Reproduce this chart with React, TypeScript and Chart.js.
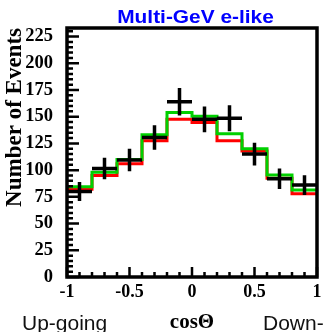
import React, { useEffect, useRef } from "react";
import { Chart, registerables } from "chart.js";

Chart.register(...registerables);

// cosΘ bin edges and centres
const binEdges = [-1, -0.8, -0.6, -0.4, -0.2, 0, 0.2, 0.4, 0.6, 0.8, 1];
const binCenters = [-0.9, -0.7, -0.5, -0.3, -0.1, 0.1, 0.3, 0.5, 0.7, 0.9];
// observed data (black crosses) and their errors
const dataValues = [80, 101.5, 109.5, 130.5, 164, 147.5, 148.5, 115, 92, 86];
const dataErrors = [9, 10, 10.5, 11.4, 12.8, 12.1, 12.2, 10.7, 9.6, 9.3];
// expectation histograms
const greenValues = [84.5, 98, 110, 133, 154, 150.5, 134, 120, 95.5, 81.5];
const redValues = [82, 95, 106, 127.5, 147.5, 144.5, 127.5, 118, 92.5, 78];
// axes
const xTickValues = [-1, -0.5, 0, 0.5, 1];
const xTickLabels = ["-1", "-0.5", "0", "0.5", "1"];
const yTickValues = [0, 25, 50, 75, 100, 125, 150, 175, 200, 225];
const yTickLabels = ["0", "25", "50", "75", "100", "125", "150", "175", "200", "225"];
const yMax = 233;
const titleText = "Multi-GeV e-like";

const histPoints = (vals: number[]) =>
  binEdges.map((x, i) => ({ x, y: vals[Math.min(i, vals.length - 1)] }));

const overlay = {
  id: "overlay",
  afterDatasetsDraw(chart: any) {
    const { ctx, chartArea: a } = chart;
    const xs = chart.scales.x;
    const ys = chart.scales.y;
    ctx.save();
    // data crosses
    ctx.strokeStyle = "#000";
    ctx.lineWidth = 3.5;
    ctx.lineCap = "butt";
    for (let i = 0; i < dataValues.length; i++) {
      const l = xs.getPixelForValue(binEdges[i]);
      const r = xs.getPixelForValue(binEdges[i + 1]);
      const cx = xs.getPixelForValue(binCenters[i]);
      const cy = ys.getPixelForValue(dataValues[i]);
      const t = ys.getPixelForValue(dataValues[i] + dataErrors[i]);
      const b = ys.getPixelForValue(dataValues[i] - dataErrors[i]);
      ctx.beginPath();
      ctx.moveTo(l, cy);
      ctx.lineTo(r, cy);
      ctx.moveTo(cx, t);
      ctx.lineTo(cx, b);
      ctx.stroke();
    }
    // inward ticks
    ctx.lineWidth = 2.5;
    ctx.beginPath();
    for (let k = 0; k * 5 <= yMax; k++) {
      const v = k * 5;
      const py = ys.getPixelForValue(v);
      const len = v % 25 === 0 ? 12 : 6;
      ctx.moveTo(a.left, py);
      ctx.lineTo(a.left + len, py);
    }
    for (let k = 0; k <= 20; k++) {
      const v = -1 + k * 0.1;
      const px = xs.getPixelForValue(v);
      const len = k % 5 === 0 ? 10 : 5;
      ctx.moveTo(px, a.bottom);
      ctx.lineTo(px, a.bottom - len);
    }
    ctx.stroke();
    // frame
    ctx.lineWidth = 3.5;
    ctx.strokeRect(a.left, a.top, a.right - a.left, a.bottom - a.top);
    // x tick labels, placed through the x scale
    ctx.fillStyle = "#000";
    ctx.font = 'bold 18px "Liberation Serif"';
    ctx.textAlign = "center";
    ctx.textBaseline = "alphabetic";
    xTickValues.forEach((v, i) => {
      ctx.fillText(xTickLabels[i], xs.getPixelForValue(v), a.bottom + 20);
    });
    // title (slightly widened, as in the original)
    ctx.save();
    ctx.fillStyle = "#0000ff";
    ctx.font = 'bold 18px "Liberation Sans"';
    ctx.textAlign = "center";
    ctx.textBaseline = "alphabetic";
    ctx.translate(195.5, 23);
    ctx.scale(1.16, 1);
    ctx.fillText(titleText, 0, 0);
    ctx.restore();
    // direction labels
    ctx.fillStyle = "#111";
    ctx.font = '21px "Liberation Sans"';
    ctx.textBaseline = "alphabetic";
    ctx.textAlign = "left";
    ctx.fillText("Up-going", 22, 330);
    ctx.fillText("Down-", 263, 330);
    ctx.restore();
  },
};

export default function App() {
  const ref = useRef<HTMLCanvasElement>(null);
  useEffect(() => {
    if (!ref.current) return;
    const serifBold = (size: number, lineHeight = 1.2) => ({
      family: "Liberation Serif",
      weight: "bold" as const,
      size,
      lineHeight,
    });
    const chart = new Chart(ref.current, {
      type: "line",
      data: {
        datasets: [
          {
            label: "green",
            data: histPoints(greenValues),
            borderColor: "#00d000",
            borderWidth: 3,
            stepped: true,
            pointRadius: 0,
            fill: false,
            order: 0,
          },
          {
            label: "red",
            data: histPoints(redValues),
            borderColor: "#ff0000",
            borderWidth: 3,
            stepped: true,
            pointRadius: 0,
            fill: false,
            order: 1,
          },
        ],
      },
      options: {
        animation: false,
        responsive: false,
        devicePixelRatio: 1,
        layout: { padding: { top: 28, right: 6, bottom: 0, left: 0 } },
        plugins: {
          legend: { display: false },
          tooltip: { enabled: false },
          title: { display: false },
        },
        scales: {
          x: {
            type: "linear",
            min: -1,
            max: 1,
            afterBuildTicks: (s: any) => {
              s.ticks = xTickValues.map((v) => ({ value: v }));
            },
            afterFit: (s: any) => {
              s.height = 55;
            },
            grid: { display: false },
            border: { display: false },
            ticks: {
              display: false,
              autoSkip: false,
              maxRotation: 0,
            },
            title: {
              display: true,
              text: "cosΘ",
              color: "#000",
              font: serifBold(21, 0.86),
              padding: 0,
            },
          },
          y: {
            type: "linear",
            min: 0,
            max: yMax,
            afterBuildTicks: (s: any) => {
              s.ticks = yTickValues.map((v) => ({ value: v }));
            },
            afterFit: (s: any) => {
              s.width = 67;
            },
            grid: { display: false },
            border: { display: false },
            ticks: {
              color: "#000",
              font: serifBold(18.5),
              padding: 6,
              callback: (_v: any, i: number) => yTickLabels[i],
            },
            title: {
              display: true,
              text: "Number of Events",
              align: "end",
              color: "#000",
              font: serifBold(23),
              padding: { top: 1.5, bottom: 0 },
            },
          },
        },
      },
      plugins: [overlay],
    } as any);
    return () => chart.destroy();
  }, []);
  return (
    <div style={{ position: "fixed", left: 0, top: 0, width: 323, height: 332, background: "#fff" }}>
      <canvas ref={ref} width={323} height={332} style={{ display: "block" }} />
    </div>
  );
}
